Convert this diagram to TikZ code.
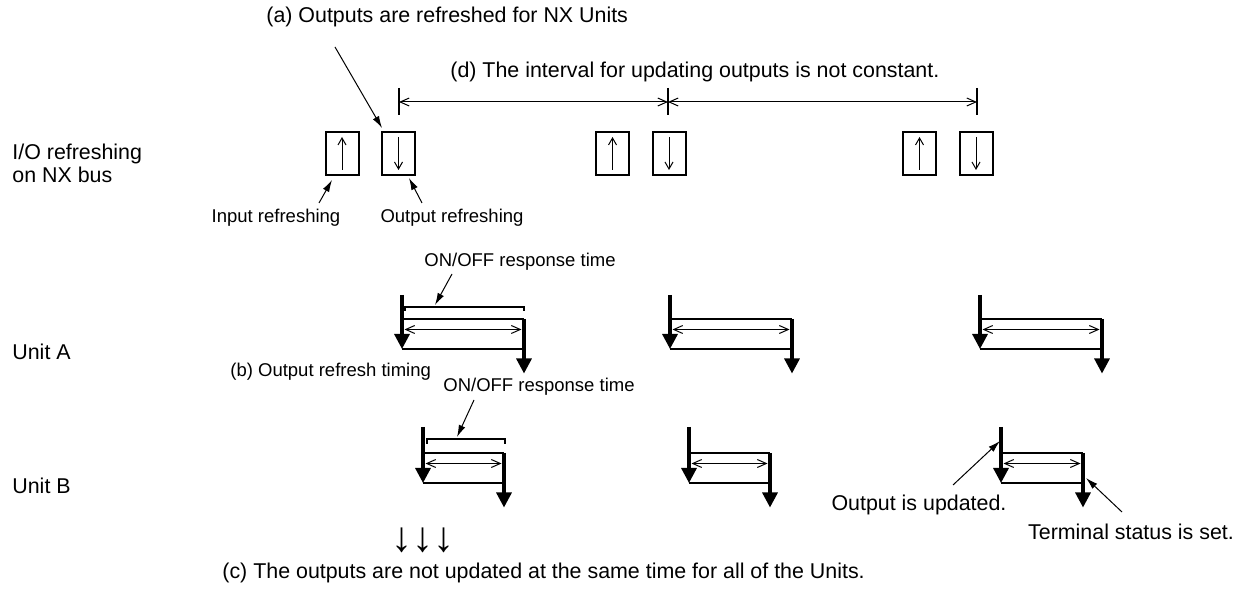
\documentclass[tikz,border=0pt]{standalone}
\usepackage{fontspec}
\setmainfont{Liberation Sans}
\usetikzlibrary{arrows.meta}
\newcommand{\respgrp}[6]{%
  \coordinate (#1-tl) at ({#2},{#4});
  \coordinate (#1-ul) at ({#2},{#5});
  \coordinate (#1-ur) at ({#3},{#5});
  \coordinate (#1-bl) at ({#2},{#6});
  \coordinate (#1-br) at ({#3},{#6});
  \coordinate (#1-tip) at ({#3},{#6+24.5});
  \coordinate (#1-dl) at ({#2+2.5},{#5+10.5});
  \coordinate (#1-dr) at ({#3-2.5},{#5+10.5});
  \draw[edgeline] (#1-ul) -- (#1-ur);
  \draw[edgeline] (#1-bl) -- (#1-br);
  \draw[dimline] (#1-dl) -- (#1-dr);
  \draw[thk] (#1-tl) -- (#1-bl);
  \draw[thk] (#1-ur) -- (#1-tip);
}
\begin{document}
\begin{tikzpicture}[x=0.5pt,y=-0.5pt,
  lbl/.style={font=\fontsize{10.7pt}{11.5pt}\selectfont, inner sep=0pt},
  slbl/.style={font=\fontsize{9.25pt}{11pt}\selectfont, inner sep=0pt},
  ptr/.style={line width=0.5pt, -{Latex[length=6pt,width=3.5pt]}},
  dimline/.style={line width=0.5pt, {Straight Barb[length=4.5pt,width=4pt]}-{Straight Barb[length=4.5pt,width=4pt]}},
  garrow/.style={line width=0.5pt, -{Straight Barb[length=3.5pt,width=4pt]}},
  thk/.style={line width=1.6pt, -{Triangle[length=7.5pt,width=7.5pt]}},
  edgeline/.style={line width=1pt},
  brk/.style={line width=0.6pt},
  tickline/.style={line width=0.6pt},
  iobox/.style={draw, line width=1pt, minimum width=16.5pt, minimum height=21.5pt, inner sep=0pt},
]
\useasboundingbox (0,0) rectangle (1247,592);

% labels
\node[lbl, anchor=west] (ta) at (266,17) {(a) Outputs are refreshed for NX Units};
\node[lbl, anchor=west] (td) at (450,72) {(d) The interval for updating outputs is not constant.};
\node[lbl, anchor=west, align=left] (tio) at (12,163) {I/O refreshing\\on NX bus};
\node[lbl, anchor=west] (tua) at (12,352) {Unit A};
\node[lbl, anchor=west] (tub) at (12,486) {Unit B};
\node[slbl] (tin) at (276,218) {Input refreshing};
\node[slbl] (tout) at (452,218) {Output refreshing};
\node[slbl] (ton1) at (520,262) {ON/OFF response time};
\node[slbl, anchor=west] (tb) at (230,372) {(b) Output refresh timing};
\node[slbl, anchor=west] (ton2) at (443,387) {ON/OFF response time};
\node[lbl] (tupd) at (919,505) {Output is updated.};
\node[lbl] (tterm) at (1131,532) {Terminal status is set.};
\node[lbl, anchor=west] (tc) at (222,573) {(c) The outputs are not updated at the same time for all of the Units.};
\node[font=\fontsize{21pt}{22pt}\selectfont, inner sep=0pt] (tdown) at (423,540) {↓↓↓};

% I/O refresh boxes
\node[iobox] (i1) at (342,153.5) {};
\node[iobox] (o1) at (398.5,153.5) {};
\node[iobox] (i2) at (612.5,153.5) {};
\node[iobox] (o2) at (669,153.5) {};
\node[iobox] (i3) at (919.5,153.5) {};
\node[iobox] (o3) at (976,153.5) {};
\foreach \n in {i1,i2,i3} \draw[garrow] ([yshift=3pt]\n.south) -- ([yshift=-3pt]\n.north);
\foreach \n in {o1,o2,o3} \draw[garrow] ([yshift=-3pt]\n.north) -- ([yshift=3pt]\n.south);

% interval dimension
\coordinate (d0) at (399,102);
\coordinate (d1) at (668,102);
\coordinate (d2) at (977,102);
\foreach \n in {d0,d1,d2} \draw[tickline] ([yshift=7pt]\n) -- ([yshift=-6.5pt]\n);
\draw[dimline] (d0) -- (d1);
\draw[dimline] (d1) -- (d2);

% response groups
\respgrp{a1}{402}{524}{295}{319}{349}
\respgrp{a2}{670}{792}{295}{319}{349}
\respgrp{a3}{980}{1102}{295}{319}{349}
\respgrp{b1}{423}{504}{427}{453}{483}
\respgrp{b2}{689}{770}{427}{453}{483}
\respgrp{b3}{1001}{1083}{427}{453}{483}

% brackets
\draw[brk] (405,311) -- (405,307) -- (524,307) -- (524,311);
\draw[brk] (427,444) -- (427,439) -- (505,439) -- (505,444);

% pointer arrows
\coordinate (pa0) at (335,47);   \coordinate (pa1) at (382,128);
\coordinate (pi0) at (319,203);  \coordinate (pi1) at (332,180);
\coordinate (po0) at (422,203);  \coordinate (po1) at (409,178);
\coordinate (pn0) at (452,274);  \coordinate (pn1) at (435,305);
\coordinate (pm0) at (474,400);  \coordinate (pm1) at (457,437);
\coordinate (pu0) at (953,485);  \coordinate (pu1) at (1000,441);
\coordinate (pt0) at (1122,512); \coordinate (pt1) at (1086,478);
\draw[ptr] (pa0) -- (pa1);
\draw[ptr] (pi0) -- (pi1);
\draw[ptr] (po0) -- (po1);
\draw[ptr] (pn0) -- (pn1);
\draw[ptr] (pm0) -- (pm1);
\draw[ptr] (pu0) -- (pu1);
\draw[ptr] (pt0) -- (pt1);
\end{tikzpicture}
\end{document}
